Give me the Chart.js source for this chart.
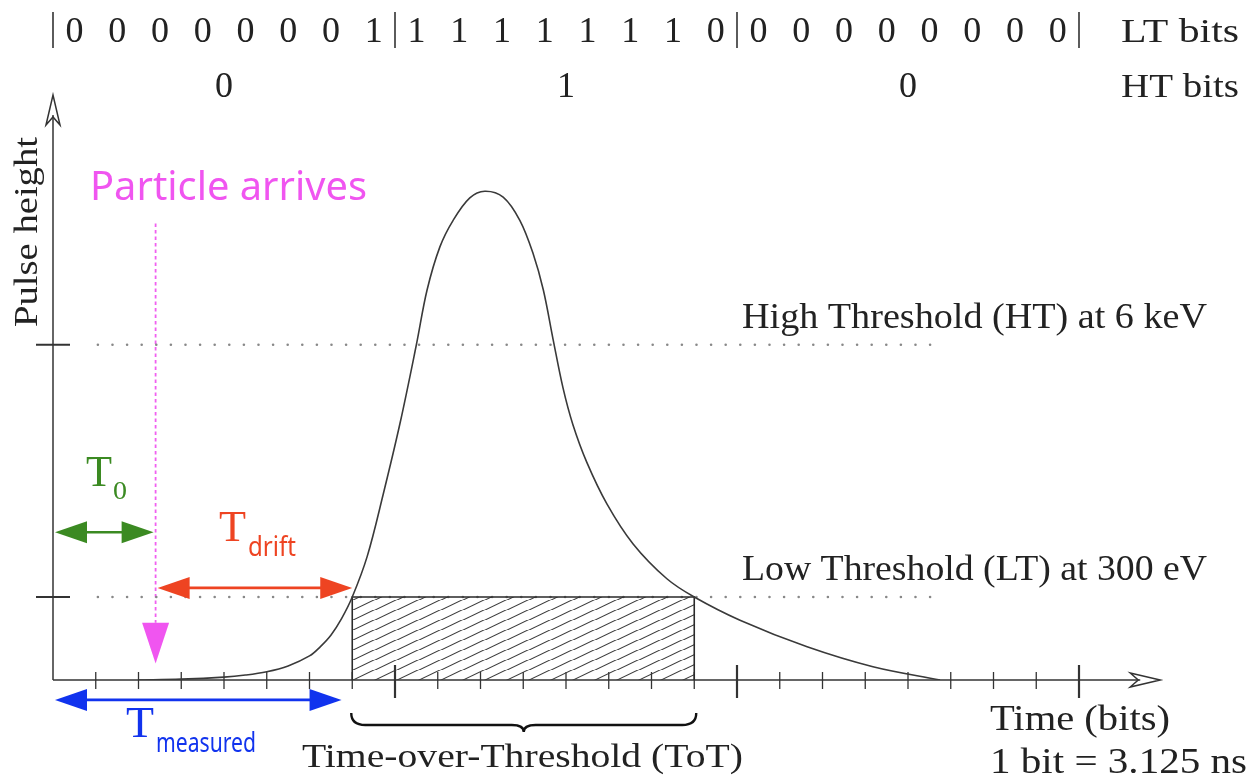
<!DOCTYPE html>
<html>
<head>
<meta charset="utf-8">
<script src="https://cdn.jsdelivr.net/npm/chart.js@4.4.1/dist/chart.umd.min.js"></script>
<style>
  html, body { margin: 0; padding: 0; background: #fff; }
  #grafico { display: block; }
</style>
</head>
<body>
<canvas id="grafico" width="1251" height="778"></canvas>
<script>
// bits que se leen arriba del grafico
const ltBits = [0, 0, 0, 0, 0, 0, 0, 1, 1, 1, 1, 1, 1, 1, 1, 0, 0, 0, 0, 0, 0, 0, 0, 0];
const htBits = [0, 1, 0];

// forma del pulso: tiempo en bits, altura en unidades del umbral bajo
const pulseTime = [2.0, 3.0, 4.0, 4.5, 5.0, 5.5, 6.0, 6.25, 6.5, 6.75, 7.0, 7.35, 7.72, 8.12, 8.5, 8.75, 9.05, 9.36, 9.75, 10.1, 10.53, 10.92, 11.23, 11.47, 11.7, 11.93, 12.16, 12.49, 12.96, 13.57, 14.36, 15.0, 16.07, 17.64, 19.18, 20.75];
const pulseHeight = [0.0, 0.01, 0.035, 0.06, 0.1, 0.17, 0.29, 0.4, 0.54, 0.74, 1.0, 1.49, 2.23, 3.1, 4.04, 4.7, 5.22, 5.54, 5.81, 5.89, 5.82, 5.54, 5.14, 4.7, 4.1, 3.52, 3.08, 2.62, 2.12, 1.64, 1.22, 1.0, 0.72, 0.4, 0.16, 0.0];

// umbrales
const thresholdLevel = [1.0, 4.04];
const thresholdLabel = ["Low Threshold (LT) at 300 eV", "High Threshold (HT) at 6 keV"];
const thresholdLine = [1.05, 20.6]; // inicio y fin de la linea punteada (bits)

// tiempos marcados
const tArrive = 2.4;
const totStart = 7.0;
const totEnd = 15.0;
const tMeasuredEnd = 6.75;

const ctx = document.getElementById("grafico");

//***************** PATRON RAYADO ***************/
const rayado = (() => {
  const w = 22, h = 10.5;
  const p = document.createElement("canvas");
  p.width = w;
  p.height = h;
  const c = p.getContext("2d");
  c.strokeStyle = "#3a3a3a";
  c.lineWidth = 1.1;
  for (let k = -1; k <= 1; k++) {
    c.beginPath();
    c.moveTo(k * w, h);
    c.lineTo(k * w + w, 0);
    c.stroke();
  }
  return ctx.getContext("2d").createPattern(p, "repeat");
})();

//***************** AYUDANTES DE DIBUJO ***************/
const texto = (c, str, x, y, size, family, color, width, align) => {
  c.save();
  c.font = size + "px " + family;
  c.fillStyle = color;
  c.textBaseline = "alphabetic";
  c.textAlign = align || "left";
  const w = c.measureText(str).width;
  const k = width ? width / w : 1;
  c.translate(x, y);
  c.scale(k, 1);
  c.fillText(str, 0, 0);
  c.restore();
};

const flechaDoble = (c, x1, x2, y, color) => {
  const len = 32, half = 11;
  c.save();
  c.strokeStyle = color;
  c.fillStyle = color;
  c.lineWidth = 2.6;
  c.beginPath();
  c.moveTo(x1 + len - 2, y);
  c.lineTo(x2 - len + 2, y);
  c.stroke();
  c.beginPath();
  c.moveTo(x1, y);
  c.lineTo(x1 + len, y - half);
  c.lineTo(x1 + len, y + half);
  c.closePath();
  c.fill();
  c.beginPath();
  c.moveTo(x2, y);
  c.lineTo(x2 - len, y - half);
  c.lineTo(x2 - len, y + half);
  c.closePath();
  c.fill();
  c.restore();
};

const SERIF = '"Liberation Serif", serif';
const SANS = '"Noto Sans", sans-serif';

//***************** PLUGIN: EJES Y ANOTACIONES ***************/
const dibujo = {
  id: "dibujo",
  beforeDatasetsDraw(chart) {
    const c = chart.ctx;
    const xs = chart.scales.x;
    const ys = chart.scales.y;
    const x0 = xs.getPixelForValue(0);
    const y0 = ys.getPixelForValue(0);
    const xEnd = xs.getPixelForValue(25.9);
    const yTop = ys.getPixelForValue(7.05);

    c.save();
    c.strokeStyle = "#333";
    c.lineWidth = 1.5;

    // eje x con flecha abierta
    c.beginPath();
    c.moveTo(x0, y0);
    c.lineTo(xEnd - 20, y0);
    c.stroke();
    c.beginPath();
    c.moveTo(xEnd - 30, y0 - 7);
    c.lineTo(xEnd, y0);
    c.lineTo(xEnd - 30, y0 + 7);
    c.lineTo(xEnd - 22, y0);
    c.closePath();
    c.stroke();

    // eje y con flecha abierta
    c.beginPath();
    c.moveTo(x0, y0);
    c.lineTo(x0, yTop + 20);
    c.stroke();
    c.beginPath();
    c.moveTo(x0 - 7, yTop + 30);
    c.lineTo(x0, yTop);
    c.lineTo(x0 + 7, yTop + 30);
    c.lineTo(x0, yTop + 22);
    c.closePath();
    c.stroke();

    // marcas del eje x
    for (let b = 1; b <= 24; b++) {
      const px = xs.getPixelForValue(b);
      const mayor = b % 8 === 0;
      c.lineWidth = mayor ? 2.2 : 1.3;
      c.beginPath();
      c.moveTo(px, y0 - (mayor ? 15 : 8));
      c.lineTo(px, y0 + (mayor ? 18 : 9));
      c.stroke();
    }

    // marcas del eje y en los umbrales
    c.lineWidth = 2;
    thresholdLevel.forEach((v) => {
      const py = ys.getPixelForValue(v);
      c.beginPath();
      c.moveTo(x0 - 17, py);
      c.lineTo(x0 + 17, py);
      c.stroke();
    });
    c.restore();
  },
  afterDatasetsDraw(chart) {
    const c = chart.ctx;
    const xs = chart.scales.x;
    const ys = chart.scales.y;
    const y0 = ys.getPixelForValue(0);

    // fila de bits LT
    ltBits.forEach((b, i) => {
      texto(c, String(b), xs.getPixelForValue(i + 0.5), 42, 36, SERIF, "#222", null, "center");
    });
    c.save();
    c.strokeStyle = "#333";
    c.lineWidth = 1.6;
    [0, 8, 16, 24].forEach((b) => {
      const px = xs.getPixelForValue(b);
      c.beginPath();
      c.moveTo(px, 12);
      c.lineTo(px, 48);
      c.stroke();
    });
    c.restore();
    // fila de bits HT
    htBits.forEach((b, i) => {
      texto(c, String(b), xs.getPixelForValue(i * 8 + 4), 97, 36, SERIF, "#222", null, "center");
    });
    texto(c, "LT bits", 1121, 42, 34, SERIF, "#222", 118);
    texto(c, "HT bits", 1121, 97, 34, SERIF, "#222", 118);

    // etiquetas de umbral
    thresholdLevel.forEach((v, i) => {
      const py = ys.getPixelForValue(v);
      texto(c, thresholdLabel[i], 742, py - 17, 35, SERIF, "#222", 465);
    });

    // etiqueta eje y
    c.save();
    c.translate(37, 327);
    c.rotate(-Math.PI / 2);
    texto(c, "Pulse height", 0, 0, 33, SERIF, "#222", 190);
    c.restore();

    // etiquetas eje x
    texto(c, "Time (bits)", 990, 730, 36, SERIF, "#222", 180);
    texto(c, "1 bit = 3.125 ns", 990, 773, 36, SERIF, "#222", 257);
    texto(c, "Time-over-Threshold (ToT)", 302, 767, 34, SERIF, "#222", 441);

    // llave bajo el ToT
    const bx1 = xs.getPixelForValue(totStart) - 1;
    const bx2 = xs.getPixelForValue(totEnd) + 2;
    const bm = (bx1 + bx2) / 2;
    const by = y0 + 33;
    c.save();
    c.strokeStyle = "#111";
    c.lineWidth = 2.4;
    c.beginPath();
    c.moveTo(bx1, by);
    c.quadraticCurveTo(bx1, by + 12, bx1 + 14, by + 12);
    c.lineTo(bm - 12, by + 12);
    c.quadraticCurveTo(bm, by + 12, bm, by + 19);
    c.quadraticCurveTo(bm, by + 12, bm + 12, by + 12);
    c.lineTo(bx2 - 14, by + 12);
    c.quadraticCurveTo(bx2, by + 12, bx2, by);
    c.stroke();
    c.restore();

    // llegada de la particula
    const xa = xs.getPixelForValue(tArrive);
    texto(c, "Particle arrives", 90, 200, 40, SANS, "#f055f0", 277);
    c.save();
    c.fillStyle = "#f055f0";
    c.beginPath();
    c.moveTo(xa - 13.5, ys.getPixelForValue(0.69));
    c.lineTo(xa + 13.5, ys.getPixelForValue(0.69));
    c.lineTo(xa, ys.getPixelForValue(0.2));
    c.closePath();
    c.fill();
    c.restore();

    // flechas de tiempo
    const xz = xs.getPixelForValue(0);
    flechaDoble(c, xz + 2, xa - 2, ys.getPixelForValue(1.78), "#3b8a22");
    flechaDoble(c, xa + 2, xs.getPixelForValue(totStart), ys.getPixelForValue(1.11), "#ee4422");
    flechaDoble(c, xz + 2, xs.getPixelForValue(tMeasuredEnd), ys.getPixelForValue(-0.24), "#1133ee");

    // T0, Tdrift, Tmeasured
    texto(c, "T", 86, 486, 45, SERIF, "#3b8a22", 26);
    texto(c, "0", 113, 499, 26, SERIF, "#3b8a22", 14);
    texto(c, "T", 219, 541, 45, SERIF, "#ee4422", 27);
    texto(c, "drift", 248, 556, 27, SANS, "#ee4422", 48);
    texto(c, "T", 126, 737, 45, SERIF, "#1133ee", 28);
    texto(c, "measured", 156, 752, 27, SANS, "#1133ee", 100);
  },
};

//***************** DIBUJANDO EL GRAFICO ***************/
const punteada = (v) => ({
  data: [
    { x: thresholdLine[0], y: v },
    { x: thresholdLine[1], y: v },
  ],
  borderColor: "#888",
  borderWidth: 2.6,
  borderDash: [0, 14.6],
  borderCapStyle: "round",
  pointRadius: 0,
  fill: false,
});

new Chart(ctx, {
  type: "line",
  data: {
    datasets: [
      {
        label: "pulso",
        data: pulseTime.map((t, i) => ({ x: t, y: pulseHeight[i] })),
        borderColor: "#3a3a3a",
        borderWidth: 1.6,
        pointRadius: 0,
        tension: 0.35,
        capBezierPoints: false,
        fill: false,
      },
      {
        label: "ToT",
        data: [
          { x: totStart, y: 0 },
          { x: totStart, y: thresholdLevel[0] },
          { x: totEnd, y: thresholdLevel[0] },
          { x: totEnd, y: 0 },
        ],
        borderColor: "#2a2a2a",
        borderWidth: 1.6,
        pointRadius: 0,
        tension: 0,
        fill: "origin",
        backgroundColor: rayado,
      },
      punteada(thresholdLevel[1]),
      punteada(thresholdLevel[0]),
      {
        label: "llegada",
        data: [
          { x: tArrive, y: 5.5 },
          { x: tArrive, y: 0.69 },
        ],
        borderColor: "#f060f0",
        borderWidth: 1.8,
        borderDash: [3.5, 3],
        pointRadius: 0,
        fill: false,
      },
    ],
  },
  options: {
    responsive: false,
    animation: false,
    devicePixelRatio: 1,
    layout: { padding: { left: 53, top: 95, right: 86.5, bottom: 98 } },
    plugins: { legend: { display: false }, tooltip: { enabled: false } },
    scales: {
      x: { type: "linear", min: 0, max: 26, display: false },
      y: { type: "linear", min: 0, max: 7.05, display: false },
    },
  },
  plugins: [dibujo],
});
</script>
</body>
</html>
